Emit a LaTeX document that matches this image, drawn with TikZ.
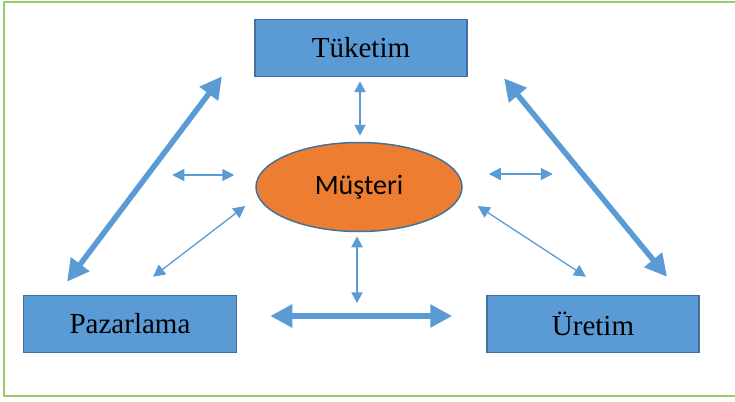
\documentclass[tikz,border=0pt]{standalone}
\usepackage{fontspec}
\setmainfont{Liberation Serif}
\newfontfamily\calibrifont{Carlito}
\usepackage{tikz}
\usetikzlibrary{calc,arrows.meta,shapes.geometric}
\usepackage{xcolor}
\definecolor{boxColor}{RGB}{91,155,213}
\definecolor{edgeColor}{RGB}{65,113,156}
\definecolor{custColor}{RGB}{237,125,49}
\definecolor{arrowColor}{RGB}{91,155,213}
\definecolor{frameColor}{RGB}{150,204,106}
\newcommand{\boxfont}{\fontsize{29}{33}\selectfont}
\newcommand{\custfont}{\calibrifont\fontsize{28}{32}\selectfont}

\begin{document}
\begin{tikzpicture}[x=1pt, y=-1pt,
        dept/.style={draw=edgeColor, line width=1.5pt, fill=boxColor, minimum width=212pt, minimum height=57pt, inner sep=0pt, font=\boxfont},
        cust/.style={ellipse, draw=edgeColor, line width=1.5pt, fill=custColor, minimum width=206pt, minimum height=89pt, inner sep=0pt, font=\custfont},
        thinarr/.style={{Triangle[length=12pt,width=12pt]}-{Triangle[length=12pt,width=12pt]}, line width=1.3pt, arrowColor},
        midarr/.style={{Triangle[length=11pt,width=11pt]}-{Triangle[length=11pt,width=11pt]}, line width=2pt, arrowColor},
        bigarr/.style={{Triangle[length=22pt,width=22pt]}-{Triangle[length=22pt,width=22pt]}, line width=5.5pt, arrowColor}
      ]
      \useasboundingbox (0,0) rectangle (735,401);
      \draw[frameColor, line width=2.5pt] (735,2) -- (4,2) -- (4,396) -- (735,396);

      \node[dept] (tuk) at (361,48) {Tüketim};
      \node[dept, minimum width=213pt] (paz) at (130,324) {Pazarlama};
      \node[dept] (ure) at (593,324) {Üretim};
      \node[cust] (mus) at (359,187) {Müşteri};
      \coordinate (mid) at ([shift={(-2,71)}]mus.south);

      % outer triangle
      \draw[bigarr] ([shift={(-63,-13)}]paz.north) -- ([shift={(-139,-1)}]tuk.south);
      \draw[bigarr] ([shift={(74,-18)}]ure.north) -- ([shift={(143,1)}]tuk.south);
      \draw[bigarr] ([shift={(33,-8)}]paz.east) -- ([shift={(-34,-8)}]ure.west);

      % customer links
      \draw[midarr] ([shift={(-1,4)}]tuk.south) -- ([shift={(1,-6)}]mus.north);
      \draw[midarr] ([shift={(-2,4)}]mus.south) -- (mid);
      \draw[thinarr] ([shift={(-83,-12)}]mus.west) -- ([shift={(-21,-12)}]mus.west);
      \draw[thinarr] ([shift={(26,-13)}]mus.east) -- ([shift={(90,-13)}]mus.east);
      \draw[thinarr] ([shift={(-10,19)}]mus.west) -- ([shift={(23,-18)}]paz.north);
      \draw[thinarr] ([shift={(15,19)}]mus.east) -- ([shift={(-7,-18)}]ure.north);
    \end{tikzpicture}
\end{document}
